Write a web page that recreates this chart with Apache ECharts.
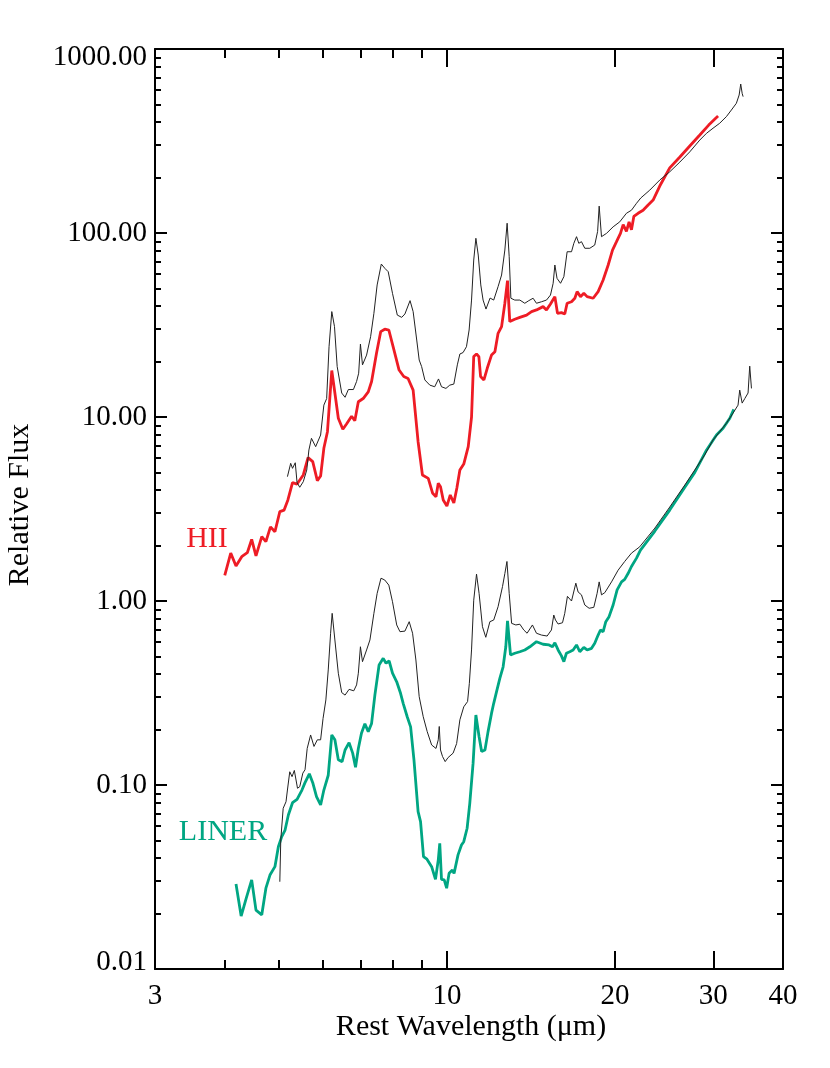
<!DOCTYPE html>
<html><head><meta charset="utf-8">
<script src="https://cdn.jsdelivr.net/npm/echarts@6/dist/echarts.min.js"></script>
<style>html,body{margin:0;padding:0;background:#fff}#c{width:830px;height:1068px}</style>
</head><body><div id="c"></div>
<script>
// ---- data (wavelength in micron, relative flux) ----
const hiiTplWave = [5.18,5.25,5.29,5.35,5.39,5.45,5.53,5.61,5.66,5.72,5.82,5.94,6.02,6.09,6.15,6.22,6.29,6.36,6.48,6.57,6.66,6.80,6.89,6.95,7.00,7.06,7.18,7.30,7.40,7.50,7.63,7.74,7.85,7.99,8.15,8.30,8.41,8.59,8.70,8.83,8.92,9.01,9.13,9.32,9.51,9.66,9.78,9.96,10.12,10.29,10.44,10.55,10.69,10.84,10.96,11.07,11.17,11.27,11.38,11.50,11.61,11.75,11.95,12.13,12.35,12.53,12.70,12.82,12.93,13.02,13.23,13.51,13.79,14.02,14.27,14.47,14.77,15.08,15.33,15.50,15.61,15.75,15.98,16.20,16.42,16.72,16.88,17.07,17.23,17.42,17.66,18.03,18.40,18.62,18.74,18.92,19.32,19.85,20.40,20.97,21.41,21.86,22.25,23.09,24.06,25.07,26.14,27.23,28.38,29.17,29.97,30.81,31.67,32.33,33.0,33.38,33.6,33.8,33.93];
const hiiTplFlux = [4.74,5.60,5.26,5.64,4.40,4.15,4.45,5.15,6.62,7.66,6.90,7.98,11.6,12.6,24.1,37.4,31.0,18.8,13.5,12.8,14.1,14.1,15.6,17.3,24.9,19.2,21.7,27.3,36.6,52.2,67.8,64.3,61.6,47.0,35.8,34.8,36.3,42.9,37.4,26.2,20.4,18.8,15.9,14.9,14.6,16.1,14.6,14.3,14.9,15.1,19.2,22.0,22.4,24.1,29.7,43.2,71.3,93.6,75.9,52.2,43.2,38.6,44.3,43.2,51.1,59.1,80.8,113,74.3,44.2,43.2,43.2,41.5,42.9,44.2,41.5,42.3,43.2,46.0,53.3,67.0,56.7,53.3,57.9,79.1,79.1,87.9,95.5,87.9,89.7,82.6,82.6,86.0,102,140,95.5,99.6,108,115,128,133,145,155,171,194,215,243,276,320,348,371,395,429,466,507,562,645,574,551];

const hiiWave = [4.00,4.10,4.19,4.29,4.39,4.47,4.55,4.66,4.74,4.83,4.92,5.02,5.11,5.19,5.29,5.39,5.53,5.64,5.75,5.86,5.94,6.02,6.11,6.22,6.30,6.39,6.51,6.61,6.75,6.84,6.94,7.08,7.23,7.33,7.48,7.61,7.74,7.87,8.01,8.21,8.37,8.52,8.70,8.88,8.95,9.04,9.26,9.43,9.56,9.65,9.74,9.85,10.0,10.14,10.29,10.42,10.55,10.72,10.92,11.07,11.17,11.30,11.41,11.49,11.65,11.81,12.02,12.19,12.35,12.53,12.70,12.84,12.96,13.23,13.51,13.89,14.18,14.47,14.87,15.08,15.33,15.61,15.78,16.04,16.26,16.42,16.72,16.95,17.11,17.35,17.59,17.83,18.28,18.66,19.05,19.45,19.80,20.13,20.46,20.69,20.97,21.20,21.41,21.62,22.0,22.46,22.93,23.41,24.06,25.07,26.14,27.23,28.38,29.44,30.6];
const hiiFlux = [1.38,1.82,1.55,1.74,1.83,2.16,1.76,2.24,2.10,2.53,2.38,3.06,3.12,3.54,4.40,4.32,4.84,6.01,5.72,4.51,4.78,6.76,8.32,17.9,13.5,9.84,8.58,9.16,10.1,9.55,12.1,12.6,13.7,15.6,22.2,29.1,30.0,29.7,24.1,18.0,16.6,16.2,14.0,7.34,7.25,4.84,4.64,3.85,3.69,4.36,4.18,3.54,3.28,3.77,3.41,4.11,5.15,5.55,6.90,10.0,21.3,22.0,21.3,16.6,15.9,18.4,21.7,22.6,28.5,31.0,41.5,55.1,33.0,34.0,34.8,35.8,37.4,38.2,39.8,38.2,41.1,45.1,36.6,36.9,36.3,41.5,42.3,44.2,48.0,45.1,47.0,45.1,44.2,48.0,55.5,67.0,80.8,89.7,99.6,111,102,115,104,123,128,133,142,151,180,226,259,297,341,386,432];

const linerTplWave = [5.02,5.04,5.09,5.15,5.18,5.23,5.28,5.33,5.40,5.45,5.52,5.57,5.62,5.70,5.78,5.86,5.94,6.00,6.07,6.13,6.19,6.23,6.30,6.39,6.48,6.57,6.68,6.81,6.89,6.94,7.00,7.06,7.18,7.28,7.40,7.50,7.62,7.74,7.87,7.99,8.13,8.24,8.41,8.56,8.68,8.80,8.92,9.07,9.22,9.39,9.56,9.65,9.69,9.74,9.82,9.93,10.05,10.26,10.41,10.55,10.72,10.89,10.97,11.07,11.17,11.30,11.42,11.58,11.74,11.94,12.13,12.35,12.58,12.70,12.81,12.93,13.06,13.29,13.51,13.73,13.92,14.23,14.47,14.77,15.12,15.39,15.54,15.65,15.82,16.11,16.26,16.44,16.72,17.02,17.18,17.42,17.66,17.98,18.33,18.58,18.74,18.92,19.18,19.72,20.26,20.82,21.41,22.15,23.58,25.07,26.68,28.96,29.97,30.81,31.67,32.55,33.23,33.46,33.8,34.17,34.63,34.87,35.12];
const linerTplFlux = [0.0298,0.0503,0.0747,0.0811,0.0939,0.118,0.111,0.120,0.0960,0.0979,0.116,0.121,0.158,0.187,0.162,0.176,0.176,0.230,0.290,0.422,0.668,0.857,0.614,0.405,0.318,0.308,0.331,0.325,0.350,0.405,0.564,0.468,0.542,0.614,0.857,1.10,1.33,1.30,1.22,0.991,0.741,0.681,0.686,0.772,0.668,0.478,0.302,0.235,0.195,0.165,0.158,0.176,0.208,0.155,0.143,0.134,0.141,0.149,0.168,0.226,0.266,0.284,0.357,0.542,1.01,1.40,1.10,0.725,0.635,0.772,0.788,0.931,1.20,1.41,1.64,1.10,0.756,0.741,0.748,0.696,0.668,0.741,0.668,0.653,0.645,0.696,0.839,0.788,0.750,0.762,0.857,1.06,1.00,1.25,1.12,1.08,0.951,0.913,0.924,1.10,1.27,1.08,1.11,1.27,1.47,1.64,1.82,1.97,2.49,3.24,4.27,6.22,7.50,8.32,9.24,10.5,11.6,14.0,11.9,12.6,13.5,18.9,14.3];

const linerWave = [4.19,4.28,4.37,4.47,4.55,4.66,4.74,4.82,4.92,4.99,5.06,5.13,5.20,5.29,5.39,5.50,5.57,5.67,5.75,5.84,5.94,6.02,6.13,6.22,6.30,6.39,6.49,6.57,6.68,6.78,6.86,6.94,7.03,7.13,7.23,7.33,7.43,7.56,7.69,7.78,7.88,7.99,8.13,8.26,8.35,8.49,8.61,8.73,8.88,8.97,9.08,9.21,9.39,9.54,9.65,9.71,9.78,9.89,9.99,10.09,10.23,10.30,10.47,10.62,10.72,10.87,10.99,11.14,11.27,11.42,11.54,11.70,11.85,12.02,12.13,12.27,12.44,12.61,12.75,12.84,13.00,13.23,13.51,13.79,14.08,14.47,14.87,15.24,15.46,15.61,15.82,16.04,16.20,16.37,16.60,16.83,17.07,17.30,17.59,17.83,18.16,18.40,18.66,18.84,19.05,19.26,19.52,19.85,20.18,20.55,20.82,21.11,21.41,21.86,22.22,23.58,25.07,26.68,27.80,29.17,30.40,31.24,32.12,32.65];
const linerFlux = [0.0290,0.0194,0.0242,0.0305,0.0209,0.0197,0.0275,0.0324,0.0360,0.0462,0.0524,0.0569,0.0687,0.0801,0.0836,0.0939,0.103,0.115,0.103,0.0864,0.0779,0.0939,0.113,0.187,0.176,0.137,0.134,0.155,0.170,0.149,0.125,0.158,0.191,0.215,0.195,0.216,0.308,0.449,0.488,0.459,0.472,0.405,0.364,0.315,0.278,0.235,0.207,0.137,0.0716,0.0632,0.0408,0.0395,0.0360,0.0307,0.0391,0.0482,0.0307,0.0305,0.0275,0.0331,0.0345,0.0331,0.0417,0.0472,0.0492,0.0582,0.0795,0.131,0.240,0.183,0.152,0.155,0.195,0.245,0.278,0.321,0.380,0.439,0.564,0.779,0.509,0.520,0.530,0.542,0.564,0.601,0.582,0.577,0.564,0.593,0.542,0.503,0.468,0.520,0.530,0.542,0.577,0.530,0.560,0.542,0.553,0.589,0.653,0.696,0.681,0.772,0.822,0.951,1.15,1.27,1.31,1.41,1.54,1.71,1.89,2.40,3.12,4.15,5.0,6.6,7.98,8.68,9.84,11.0];

// ---- axes ----
const xLabelValues = [3, 10, 20, 30, 40];
const xMajorTicks = [10, 20, 30];
const xMinorTicks = [4, 5, 6, 7, 8, 9];
const yLabelValues = [0.01, 0.1, 1, 10, 100, 1000];
const yMinorTicks = [0.02,0.03,0.04,0.05,0.06,0.07,0.08,0.09,0.2,0.3,0.4,0.5,0.6,0.7,0.8,0.9,2,3,4,5,6,7,8,9,20,30,40,50,60,70,80,90,200,300,400,500,600,700,800,900];

const FONT = '"Liberation Serif","Times New Roman",serif';
const RED = '#ee1c25', GREEN = '#00a683';

function zip(a, b) { return a.map((v, i) => [v, b[i]]); }

function xAxis(position, ticks, len, withLabels, withLine) {
  return {
    type: 'log', logBase: 10, min: 3, max: 40, gridIndex: 0, position: position,
    axisLine: { show: withLine, onZero: false, lineStyle: { color: '#000', width: 2 } },
    axisTick: { show: true, inside: true, length: len, customValues: ticks, lineStyle: { color: '#000', width: 2 } },
    axisLabel: withLabels ? {
      show: true, customValues: xLabelValues, margin: 13, color: '#000', fontFamily: FONT, fontSize: 29,
      formatter: v => String(Math.round(v))
    } : { show: false },
    splitLine: { show: false }, minorTick: { show: false }
  };
}
function yAxis(position, ticks, len, withLabels, withLine) {
  return {
    type: 'log', logBase: 10, min: 0.01, max: 1000, gridIndex: 0, position: position,
    axisLine: { show: withLine, onZero: false, lineStyle: { color: '#000', width: 2 } },
    axisTick: { show: true, inside: true, length: len, customValues: ticks, lineStyle: { color: '#000', width: 2 } },
    axisLabel: withLabels ? {
      show: true, customValues: yLabelValues, margin: 8, color: '#000', fontFamily: FONT, fontSize: 29,
      formatter: v => {
        const s = v.toFixed(2);
        if (v > 500) return '{top|' + s + '}';
        if (v < 0.015) return '{bot|' + s + '}';
        return s;
      },
      rich: {
        top: { fontFamily: FONT, fontSize: 29, color: '#000', padding: [16, 0, 0, 0] },
        bot: { fontFamily: FONT, fontSize: 29, color: '#000', padding: [0, 0, 14, 0] }
      }
    } : { show: false },
    splitLine: { show: false }, minorTick: { show: false }
  };
}

const chart = echarts.init(document.getElementById('c'), null, { renderer: 'canvas' });
chart.setOption({
  animation: false,
  backgroundColor: '#fff',
  grid: { left: 155, right: 47, top: 49, bottom: 99, containLabel: false },
  xAxis: [
    xAxis('bottom', xMajorTicks, 18, true, true),
    xAxis('bottom', xMinorTicks, 9, false, false),
    xAxis('top', xMajorTicks, 18, false, true),
    xAxis('top', xMinorTicks, 9, false, false)
  ],
  yAxis: [
    yAxis('left', yLabelValues, 12, true, true),
    yAxis('left', yMinorTicks, 6, false, false),
    yAxis('right', yLabelValues, 12, false, true),
    yAxis('right', yMinorTicks, 6, false, false)
  ],
  series: [
    { name: 'HII', type: 'line', data: zip(hiiWave, hiiFlux), showSymbol: false, symbol: 'none',
      lineStyle: { color: RED, width: 2.8 }, z: 2 },
    { name: 'LINER', type: 'line', data: zip(linerWave, linerFlux), showSymbol: false, symbol: 'none',
      lineStyle: { color: GREEN, width: 2.8 }, z: 2 },
    { name: 'HII template', type: 'line', data: zip(hiiTplWave, hiiTplFlux), showSymbol: false, symbol: 'none',
      lineStyle: { color: '#222', width: 1 }, z: 3 },
    { name: 'LINER template', type: 'line', data: zip(linerTplWave, linerTplFlux), showSymbol: false, symbol: 'none',
      lineStyle: { color: '#222', width: 1 }, z: 3 }
  ],
  graphic: [
    { type: 'text', x: 471, y: 1027, style: { text: 'Rest Wavelength (\u03bcm)', fontFamily: FONT, fontSize: 30, fill: '#000', align: 'center', verticalAlign: 'middle' } },
    { type: 'text', x: 20, y: 505, rotation: Math.PI / 2, style: { text: 'Relative Flux', fontFamily: FONT, fontSize: 30, fill: '#000', align: 'center', verticalAlign: 'middle' } },
    { type: 'text', x: 207, y: 539, style: { text: 'HII', fontFamily: FONT, fontSize: 30, fill: RED, align: 'center', verticalAlign: 'middle' } },
    { type: 'text', x: 223, y: 832, style: { text: 'LINER', fontFamily: FONT, fontSize: 30, fill: GREEN, align: 'center', verticalAlign: 'middle' } }
  ]
});
</script>
</body></html>
